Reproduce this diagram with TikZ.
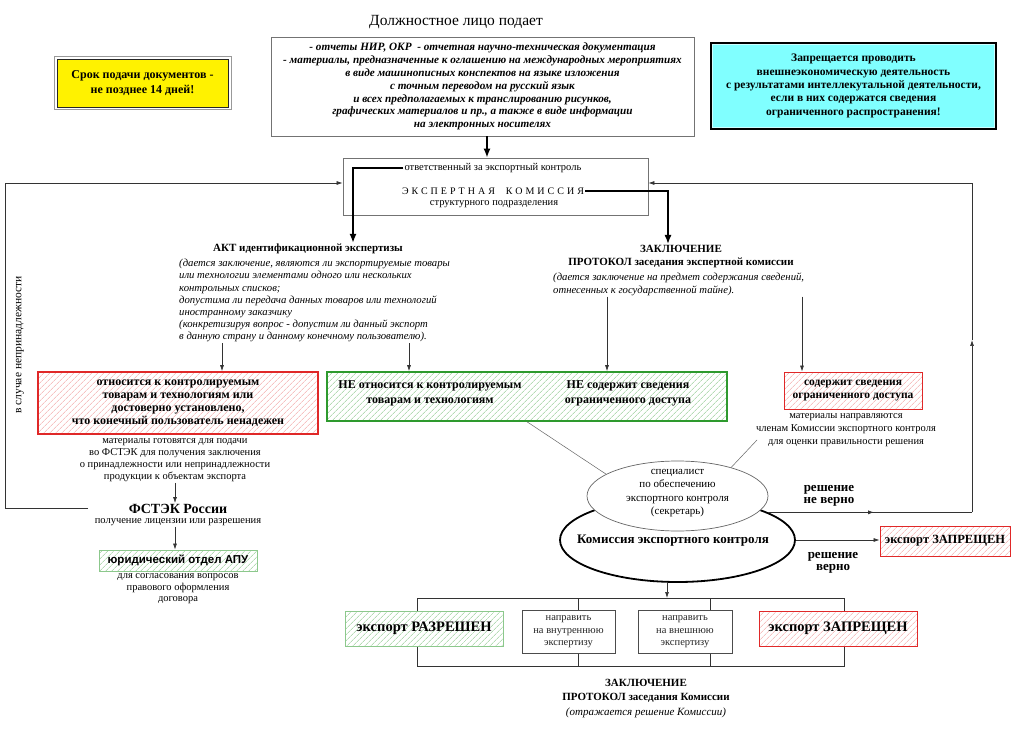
\documentclass[tikz,border=0pt]{standalone}
\usepackage{fontspec}
\setmainfont{Liberation Serif}
\newfontfamily\arialfam{Liberation Sans}
\usetikzlibrary{arrows.meta,shapes.geometric,patterns.meta,decorations.markings,calc}
\newcommand{\fsz}[2]{\fontsize{#1}{#2}\selectfont}
\definecolor{hred}{HTML}{E02828}
\definecolor{hredl}{HTML}{F2A0A0}
\definecolor{hgrn}{HTML}{2E9A2E}
\definecolor{hgrnl}{HTML}{8CC88C}
\definecolor{cyanbox}{HTML}{80FFFF}
\begin{document}
\begin{tikzpicture}[x=1pt,y=-1pt,font=\fsz{10.5}{12.5},
  conn/.style={draw=black!80, line width=0.7pt},
  arr/.style={conn, -{Latex[length=6pt,width=4pt]}},
  thickarr/.style={draw=black, line width=1.5pt, -{Latex[length=9pt,width=7pt]}},
  thinl/.style={draw=black!60, line width=0.5pt},
  txt/.style={inner sep=1pt, align=center},
  redhatch/.style={preaction={fill=white}, pattern={Lines[angle=45,distance=4pt,line width=0.6pt]}, pattern color=hredl, draw=hred, align=center},
  greenhatch/.style={preaction={fill=white}, pattern={Lines[angle=45,distance=4pt,line width=0.6pt]}, pattern color=hgrnl, draw=hgrn, align=center},
  midarrow/.style={postaction=decorate, decoration={markings, mark=at position 0.52 with {\arrow{Latex[length=6pt,width=4pt]}}}}
]
\useasboundingbox[fill=white] (0,0) rectangle (1023,735);

% --- top ---
\node[txt, font=\fsz{15.5}{17}] (title) at (456,22) {Должностное лицо подает};
\node[draw=black!55, line width=0.8pt, minimum width=423pt, minimum height=99pt, align=center, inner sep=0, font=\bfseries\itshape\fsz{11.2}{12.9}] (src) at (482.5,86.5)
 {- отчеты НИР, ОКР\ \ - отчетная научно-техническая документация\\
  - материалы, предназначенные к оглашению на международных мероприятиях\\
  в виде машинописных конспектов на языке изложения\\
  с точным переводом на русский язык\\
  и всех предполагаемых к транслированию рисунков,\\
  графических материалов и пр., а также в виде информации\\
  на электронных носителях};

\node[fill=yellow, draw=black!85, line width=0.8pt, minimum width=171pt, minimum height=48pt, align=center, font=\bfseries\fsz{12}{14.5}] (yel) at (142.5,83) {Срок подачи документов -\\не позднее 14 дней!};
\draw[black!40, line width=0.8pt] ([shift={(-2.5,-2.5)}]yel.north west) rectangle ([shift={(2.5,2.5)}]yel.south east);

\node[fill=cyanbox, draw=black, line width=2.5pt, minimum width=285pt, minimum height=86pt, align=center, font=\bfseries\fsz{11.5}{13.3}] (cyan) at (853.5,86)
 {Запрещается проводить\\внешнеэкономическую деятельность\\с результатами интеллекутальной деятельности,\\если в них содержатся сведения\\ограниченного распространения!};
\draw[white!60!cyanbox, line width=0.6pt] ([shift={(3,3)}]cyan.north west) rectangle ([shift={(-3,-3)}]cyan.south east);

% --- expert commission ---
\node[draw=black!55, line width=0.8pt, minimum width=305pt, minimum height=57pt] (exp) at (495.5,186.5) {};
\node[txt] (resp) at (493,168) {ответственный за экспортный контроль};
\node[txt, font={\addfontfeature{LetterSpace=30}\fsz{10}{12}}] (kom) at (493,191) {ЭКСПЕРТНАЯ\ \ КОМИССИЯ};
\node[txt] (strp) at (494,204) {структурного подразделения};

% --- act and conclusion ---
\node[txt, font=\bfseries\fsz{11}{13}] (akt) at (308,249) {АКТ идентификационной экспертизы};
\node[anchor=north west, align=left, inner sep=1pt, font=\itshape\fsz{10.7}{12.2}] (aktt) at (178,258)
 {(дается заключение, являются ли экспортируемые товары\\
  или технологии элементами одного или нескольких\\
  контрольных списков;\\
  допустима ли передача данных товаров или технологий\\
  иностранному заказчику\\
  (конкретизируя вопрос - допустим ли данный экспорт\\
  в данную страну и данному конечному пользователю).};
\node[txt, font=\bfseries\fsz{11}{13}] (zak) at (681,256.5) {ЗАКЛЮЧЕНИЕ\\ПРОТОКОЛ заседания экспертной комиссии};
\node[anchor=north west, align=left, inner sep=1pt, font=\itshape\fsz{10.7}{12.2}] (zakt) at (552,272)
 {(дается заключение на предмет содержания сведений,\\отнесенных к государственной тайне).};

% --- result boxes ---
\node[redhatch, line width=1.6pt, minimum width=280pt, minimum height=62pt, font=\bfseries\fsz{12}{13}] (ra) at (178,403)
 {относится к контролируемым\\товарам и технологиям или\\достоверно установлено,\\что конечный пользователь ненадежен};
\node[txt, font=\fsz{10.5}{12}] (rat) at (175,460) {материалы готовятся для подачи\\во ФСТЭК для получения заключения\\о принадлежности или непринадлежности\\продукции к объектам экспорта};
\node[txt, font=\bfseries\fsz{14}{16}] (fstek) at (178,509) {ФСТЭК России};
\node[txt] (lic) at (178,522) {получение лицензии или разрешения};
\node[greenhatch, draw=hgrnl, line width=0.8pt, minimum width=158pt, minimum height=21pt, inner sep=0, font=\arialfam\bfseries\fsz{11.5}{13}] (apu) at (178,560.5) {юридический отдел АПУ};
\node[txt, font=\fsz{10.5}{11.5}] (apt) at (178,589) {для согласования вопросов\\правового оформления\\договора};
\node[txt, rotate=90, font=\fsz{11.5}{13}] (vsl) at (20,345) {в случае непринадлежности};

\node[greenhatch, line width=1.6pt, minimum width=400pt, minimum height=49pt] (gr) at (527,396.5) {};
\node[txt, font=\bfseries\fsz{12}{14.5}] (gr1) at (430,393.5) {НЕ относится к контролируемым\\товарам и технологиям};
\node[txt, font=\bfseries\fsz{12}{14.5}] (gr2) at (628,393.5) {НЕ содержит сведения\\ограниченного доступа};

\node[redhatch, line width=0.8pt, minimum width=138pt, minimum height=37pt, inner sep=0, font=\bfseries\fsz{11.5}{13}] (rb) at (853,390.5) {содержит сведения\\ограниченного доступа};
\node[txt, font=\fsz{10.5}{12.8}] (rbt) at (846,430) {материалы направляются\\членам Комиссии экспортного контроля\\для оценки правильности решения};

% --- commission ellipses ---
\node[ellipse, draw=black, line width=1.8pt, fill=white, minimum width=235pt, minimum height=84pt, inner sep=0] (big) at (677.5,540) {};
\node[ellipse, draw=black!60, line width=0.7pt, fill=white, minimum width=181pt, minimum height=70pt, inner sep=0] (sm) at (677.5,496) {};
\node[txt, font=\fsz{11}{13.3}] (smt) at (677.5,493) {специалист\\по обеспечению\\экспортного контроля\\(секретарь)};
\node[txt, font=\bfseries\fsz{13}{15}] (bigt) at (673,541) {Комиссия экспортного контроля};

\node[txt, font=\bfseries\fsz{13}{11.5}] (nv) at (829,496) {решение\\не верно};
\node[txt, font=\bfseries\fsz{13}{11.5}] (vv) at (833,563) {решение\\верно};
\node[redhatch, line width=0.8pt, minimum width=130pt, minimum height=30pt, inner sep=0, font=\bfseries\fsz{12.5}{14}] (fb1) at (945,541) {экспорт ЗАПРЕЩЕН};

% --- bottom bracket ---
\coordinate (btl) at (417,598);
\coordinate (bbr) at (844,666);
\coordinate (v1t) at (578,598); \coordinate (v1b) at (578,666);
\coordinate (v2t) at (710,598); \coordinate (v2b) at (710,666);
\draw[conn] (btl) rectangle (bbr);
\draw[conn] (v1t) -- (v1b);
\draw[conn] (v2t) -- (v2b);
\node[greenhatch, draw=hgrnl, line width=0.8pt, minimum width=158pt, minimum height=35pt, inner sep=0, font=\bfseries\fsz{14.5}{16}] (ok) at (424,628.5) {экспорт РАЗРЕШЕН};
\node[draw=black!70, fill=white, line width=0.7pt, minimum width=93pt, minimum height=43pt, inner sep=0, align=center, text=black!85, font=\fsz{10.5}{12.5}] (in1) at (568.5,632) {направить\\на внутреннюю\\экспертизу};
\node[draw=black!70, fill=white, line width=0.7pt, minimum width=94pt, minimum height=43pt, inner sep=0, align=center, text=black!85, font=\fsz{10.5}{12.5}] (in2) at (685,632) {направить\\на внешнюю\\экспертизу};
\node[redhatch, line width=0.8pt, minimum width=158pt, minimum height=35pt, inner sep=0, font=\bfseries\fsz{14.5}{16}] (fb2) at (838,628.5) {экспорт ЗАПРЕЩЕН};
\node[txt, font=\bfseries\fsz{11}{14}] (zk2) at (646,691) {ЗАКЛЮЧЕНИЕ\\ПРОТОКОЛ заседания Комиссии};
\node[txt, font=\itshape\fsz{11}{13}] (otr) at (646,713) {(отражается решение Комиссии)};

% --- connectors ---
\coordinate (ax) at (487,0);
\draw[thickarr] (ax |- src.south) -- (ax |- exp.north);
\coordinate (ka) at (353,0);
\draw[thickarr, line width=1.4pt] (resp.west) -| (ka |- akt.north);
\coordinate (kb) at (668,0);
\draw[thickarr, line width=1.4pt] (kom.east) -| (kb |- zak.north);

\coordinate (x1) at (222,0);
\coordinate (x2) at (409,0);
\coordinate (x3) at (607,0);
\coordinate (x4) at (802,0);
\draw[arr] (x1 |- aktt.south) -- (x1 |- ra.north);
\draw[arr] (x2 |- aktt.south) -- (x2 |- gr.north);
\draw[arr] (x3 |- zakt.south) -- (x3 |- gr.north);
\draw[arr] (x4 |- zakt.south) -- (x4 |- rb.north);

\coordinate (fx) at (175,0);
\draw[arr] (fx |- rat.south) -- (fx |- fstek.north);
\draw[arr] (fx |- lic.south) -- (fx |- apu.north);

\coordinate (fsl) at (88,508);
\coordinate (lb) at (5,508);
\coordinate (lt) at (5,183);
\draw[arr] (fsl) -- (lb) -- (lt) -- (lt -| exp.west);

\draw[thinl] (gr.south) -- (sm.163);
\coordinate (rbe) at (757,440);
\draw[thinl] (sm.28) -- (rbe);

\coordinate (rt) at (972,183);
\coordinate (rm) at (972,340);
\draw[conn, midarrow] (big.17) -- (big.17 -| rt);
\draw[arr] (big.17 -| rt) -- (rm);
\draw[arr] (rm) -- (rt) -- (rt -| exp.east);
\draw[arr] (big.east) -- (big.east -| fb1.west);

\coordinate (bx) at (667,0);
\draw[arr] (bx |- big.south) -- (bx |- btl);
\end{tikzpicture}
\end{document}
